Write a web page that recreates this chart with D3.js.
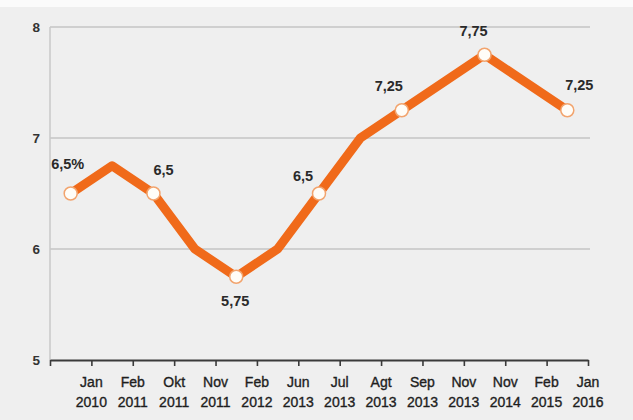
<!DOCTYPE html>
<html>
<head>
<meta charset="utf-8">
<script src="https://cdn.jsdelivr.net/npm/d3@7/dist/d3.min.js"></script>
<style>
  html, body { margin: 0; padding: 0; background: #efefef; }
  svg { display: block; }
</style>
</head>
<body>
<svg id="chart" width="633" height="420"></svg>
<script>
// ---- data ----
const months = ["Jan", "Feb", "Okt", "Nov", "Feb", "Jun", "Jul", "Agt", "Sep", "Nov", "Nov", "Feb", "Jan"];
const years  = ["2010", "2011", "2011", "2011", "2012", "2013", "2013", "2013", "2013", "2013", "2014", "2015", "2016"];
const rates  = [6.5, 6.75, 6.5, 6.0, 5.75, 6.0, 6.5, 7.0, 7.25, 7.5, 7.75, 7.5, 7.25];
const labeledIdx = [0, 2, 4, 6, 8, 10, 12];
const labelTexts = ["6,5%", "6,5", "5,75", "6,5", "7,25", "7,75", "7,25"];
const yTicks = [5, 6, 7, 8];

// ---- layout / style ----
const W = 633, H = 420;
const plotL = 50, plotR = 588, plotT = 27, plotB = 360;
const orange = "#f06a1a";
// label offsets (dx, dy) relative to the point
const labelOffsets = [[-3, -25], [10, -19], [-1, 29], [-16, -13], [-13, -19], [-11, -19], [12, -20]];

const svg = d3.select("#chart");
svg.append("rect").attr("width", W).attr("height", H).attr("fill", "#efefef");
svg.append("rect").attr("width", W).attr("height", 7).attr("fill", "#fbfbfb");

const x = d3.scaleLinear().domain([0, months.length]).range([plotL, plotR]);
const y = d3.scaleLinear().domain([5, 8]).range([plotB, plotT]);

// gridlines
svg.append("g").selectAll("line").data(yTicks.filter(t => t > 5)).join("line")
  .attr("x1", plotL).attr("x2", plotR + 2)
  .attr("y1", d => y(d)).attr("y2", d => y(d))
  .attr("stroke", "#c4c4c4").attr("stroke-width", 1.5);

// y axis line
svg.append("line").attr("x1", plotL).attr("x2", plotL)
  .attr("y1", plotT).attr("y2", plotB)
  .attr("stroke", "#c8c8c8").attr("stroke-width", 1.5);

// y tick labels
svg.append("g").selectAll("text").data(yTicks).join("text")
  .attr("x", 40).attr("y", d => y(d) + 5)
  .attr("text-anchor", "end")
  .attr("font-family", "Liberation Sans, Arial, sans-serif")
  .attr("font-size", 13.5).attr("font-weight", "bold").attr("fill", "#333")
  .text(d => d);

// x axis
const xAxis = d3.axisBottom(x)
  .tickValues(d3.range(0, months.length + 1))
  .tickSize(6)
  .tickSizeOuter(0)
  .tickFormat(() => "");
const gx = svg.append("g").attr("transform", `translate(0,${plotB})`).call(xAxis);
gx.select(".domain").attr("stroke", "#3a3a3a").attr("stroke-width", 2.2);
gx.selectAll(".tick line").attr("stroke", "#3a3a3a").attr("stroke-width", 1.6);

const xl = svg.append("g").selectAll("text").data(months).join("text")
  .attr("text-anchor", "middle")
  .attr("font-family", "Liberation Sans, Arial, sans-serif")
  .attr("font-size", 14).attr("fill", "#1e1e1e")
  .attr("stroke", "#1e1e1e").attr("stroke-width", 0.35);
xl.append("tspan").attr("x", (d, i) => x(i + 1)).attr("y", 387).text(d => d);
xl.append("tspan").attr("x", (d, i) => x(i + 1)).attr("y", 407).text((d, i) => years[i]);

// line
const line = d3.line().x((d, i) => x(i + 0.5)).y(d => y(d));
svg.append("path").datum(rates)
  .attr("d", line)
  .attr("fill", "none")
  .attr("stroke", orange)
  .attr("stroke-width", 9)
  .attr("stroke-linejoin", "round")
  .attr("stroke-linecap", "round");

// markers
svg.append("g").selectAll("circle").data(labeledIdx).join("circle")
  .attr("cx", i => x(i + 0.5)).attr("cy", i => y(rates[i]))
  .attr("r", 6.5)
  .attr("fill", "#fffdf8")
  .attr("stroke", "#f2a46e").attr("stroke-width", 1.5);

// value labels
svg.append("g").selectAll("text").data(labeledIdx).join("text")
  .attr("x", (i, k) => x(i + 0.5) + labelOffsets[k][0])
  .attr("y", (i, k) => y(rates[i]) + labelOffsets[k][1])
  .attr("text-anchor", "middle")
  .attr("font-family", "Liberation Sans, Arial, sans-serif")
  .attr("font-size", 14.5).attr("font-weight", "bold").attr("fill", "#2a2a2a")
  .text((i, k) => labelTexts[k]);
</script>
</body>
</html>
